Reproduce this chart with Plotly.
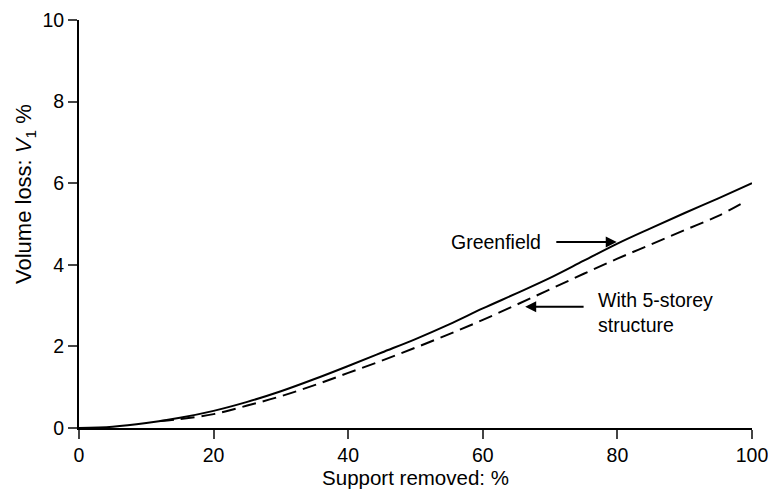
import plotly.graph_objects as go

# Data
green_x = [0, 5, 10, 15, 20, 25, 30, 35, 40, 45, 50, 55, 60, 65, 70, 75, 80, 85, 90, 95, 100]
green_y = [0, 0.03, 0.12, 0.25, 0.42, 0.64, 0.9, 1.2, 1.52, 1.85, 2.18, 2.54, 2.93, 3.3, 3.68, 4.1, 4.52, 4.9, 5.27, 5.63, 6.0]

storey_x = [12, 15, 20, 25, 30, 35, 40, 45, 50, 55, 60, 65, 70, 75, 80, 85, 90, 95, 99]
storey_y = [0.17, 0.22, 0.34, 0.55, 0.78, 1.05, 1.35, 1.65, 1.97, 2.3, 2.65, 3.02, 3.4, 3.78, 4.15, 4.5, 4.85, 5.2, 5.55]

x_ticks = [0, 20, 40, 60, 80, 100]
y_ticks = [0, 2, 4, 6, 8, 10]

FONT = "Liberation Sans, Arial, sans-serif"
FS = 19.5

# page body has an 8px margin; figure size/margins compensate
W, H = 768, 483
L, R, T, B = 71, 24, 12, 63
PW, PH = W - L - R, H - T - B

fig = go.Figure()
fig.add_trace(go.Scatter(x=green_x, y=green_y, mode="lines", name="Greenfield",
                         line=dict(color="black", width=2, shape="spline"), cliponaxis=False))
fig.add_trace(go.Scatter(x=storey_x, y=storey_y, mode="lines", name="With 5-storey structure",
                         line=dict(color="black", width=2, dash="14px,7px", shape="spline"), cliponaxis=False))

# Annotations
fig.add_annotation(x=79.9, y=4.56, ax=70.7, ay=4.56, axref="x", ayref="y", xref="x", yref="y",
                   showarrow=True, arrowhead=2, arrowsize=1.1, arrowwidth=2, arrowcolor="black", text="")
fig.add_annotation(x=69.0, y=4.56, xref="x", yref="y", text="Greenfield", showarrow=False,
                   xanchor="right", yanchor="middle", font=dict(family=FONT, size=FS, color="black"))
fig.add_annotation(x=66.3, y=2.97, ax=75.2, ay=2.97, axref="x", ayref="y", xref="x", yref="y",
                   showarrow=True, arrowhead=2, arrowsize=1.1, arrowwidth=2, arrowcolor="black", text="")
fig.add_annotation(x=77.0, y=2.83, xref="x", yref="y", text="With 5-storey<br>structure", showarrow=False,
                   xanchor="left", yanchor="middle", align="left", borderpad=0,
                   font=dict(family=FONT, size=FS, color="black"))

# Y axis title (positioned like the reference, above the axis centre)
fig.add_annotation(xref="paper", yref="paper", x=(17 - L) / PW, y=(T + PH - 186) / PH,
                   text="Volume loss: <i>V</i><sub>1</sub> %", showarrow=False, textangle=-90,
                   xanchor="center", yanchor="middle", font=dict(family=FONT, size=22, color="black"))

fig.update_layout(
    width=W, height=H,
    margin=dict(l=L, r=R, t=T, b=B, autoexpand=False),
    paper_bgcolor="white", plot_bgcolor="white",
    showlegend=False,
    font=dict(family=FONT, size=FS, color="black"),
    xaxis=dict(range=[0, 100], tickvals=x_ticks, ticks="outside", ticklen=9, tickwidth=2,
               showline=True, linecolor="black", linewidth=2, showgrid=False, zeroline=False,
               automargin=False,
               title=dict(text="Support removed: %", font=dict(family=FONT, size=20.5), standoff=1),
               tickfont=dict(family=FONT, size=FS)),
    yaxis=dict(range=[0, 10], tickvals=y_ticks, ticks="outside", ticklen=9, tickwidth=2,
               showline=True, linecolor="black", linewidth=2, showgrid=False, zeroline=False,
               automargin=False,
               tickfont=dict(family=FONT, size=FS)),
)

fig.write_html("out.html")
